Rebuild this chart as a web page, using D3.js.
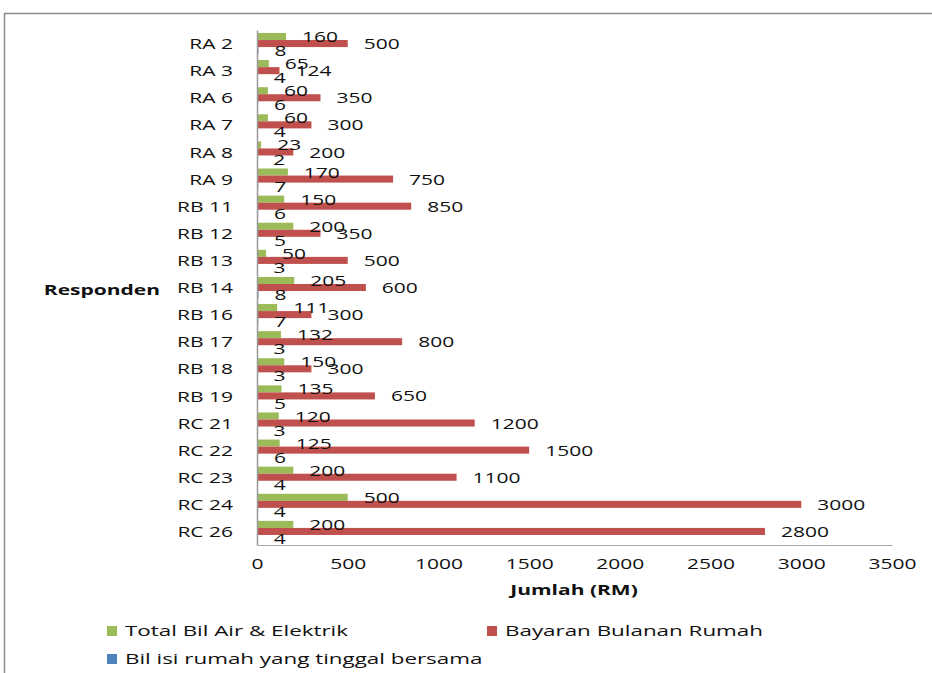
<!DOCTYPE html>
<html>
<head>
<meta charset="utf-8">
<script src="https://cdn.jsdelivr.net/npm/d3@7"></script>
<style>
  body { margin: 0; background: #fff; }
  text { font-family: "Open Sans", "Noto Sans", sans-serif; fill: #111; }
</style>
</head>
<body>
<div id="chart"></div>
<script>
// respondents, top to bottom
var categories = ['RA 2', 'RA 3', 'RA 6', 'RA 7', 'RA 8', 'RA 9', 'RB 11', 'RB 12', 'RB 13', 'RB 14',
  'RB 16', 'RB 17', 'RB 18', 'RB 19', 'RC 21', 'RC 22', 'RC 23', 'RC 24', 'RC 26']

// series values
var bilAirElektrik = [160, 65, 60, 60, 23, 170, 150, 200, 50, 205, 111, 132, 150, 135, 120, 125, 200, 500, 200]
var bayaranRumah = [500, 124, 350, 300, 200, 750, 850, 350, 500, 600, 300, 800, 300, 650, 1200, 1500, 1100, 3000, 2800]
var bilIsiRumah = [8, 4, 6, 4, 2, 7, 6, 5, 3, 8, 7, 3, 3, 5, 3, 6, 4, 4, 4]

var seriesNames = ['Total Bil Air & Elektrik', 'Bayaran Bulanan Rumah', 'Bil isi rumah yang tinggal bersama']
var seriesColors = ['#9bbb59', '#c0504d', '#4f81bd']
var xTicks = [0, 500, 1000, 1500, 2000, 2500, 3000, 3500]

const width = 932
const height = 673
const SX = 1.5   // the original text is drawn wide, stretch it horizontally
const FS = 14

var svg = d3.select('#chart')
  .append('svg')
  .attr('width', width)
  .attr('height', height)

// outer chart frame
svg.append('rect')
  .attr('x', 4.5).attr('y', 13.5)
  .attr('width', 1000).attr('height', 1000)
  .attr('fill', 'none')
  .attr('stroke', '#8c8c8c')
  .attr('stroke-width', 1.5)

var x = d3.scaleLinear().domain([0, 3500]).range([257, 892])
var y = d3.scaleBand().domain(categories).range([30, 545]).paddingInner(0.22).paddingOuter(0.11)
var ySub = d3.scaleBand().domain([0, 1, 2]).range([0, y.bandwidth()])

var series = [bilAirElektrik, bayaranRumah, bilIsiRumah]

// bars
series.forEach(function (values, s) {
  svg.append('g')
    .selectAll('rect')
    .data(values)
    .enter()
    .append('rect')
    .attr('x', x(0))
    .attr('y', (d, i) => y(categories[i]) + ySub(s))
    .attr('width', d => x(d) - x(0))
    .attr('height', ySub.bandwidth())
    .attr('fill', seriesColors[s])
})

// data labels
series.forEach(function (values, s) {
  svg.append('g')
    .selectAll('text')
    .data(values)
    .enter()
    .append('text')
    .attr('transform', (d, i) => 'translate(' + (x(d) + 16) + ',' + (y(categories[i]) + ySub(s) + ySub.bandwidth() / 2 + 0.5) + ') scale(' + SX + ',1)')
    .attr('dy', '0.36em')
    .style('font-size', FS + 'px')
    .text(d => d)
})

// y axis
var yAxis = svg.append('g')
  .attr('transform', 'translate(' + x(0) + ',0)')
  .call(d3.axisLeft(y).tickSize(0).tickSizeOuter(0))
yAxis.select('.domain').attr('stroke', '#999').attr('stroke-width', 1.5)
yAxis.selectAll('text')
  .attr('x', -24 / SX)
  .attr('dy', '0.4em')
  .attr('transform', 'scale(' + SX + ',1)')
  .style('font-size', FS + 'px')
  .style('font-family', '"Open Sans", sans-serif')
  .attr('fill', '#111')

// x axis
var xAxis = svg.append('g')
  .attr('transform', 'translate(0,545)')
  .call(d3.axisBottom(x).tickValues(xTicks).tickSize(0).tickSizeOuter(0).tickFormat(d3.format('d')))
xAxis.select('.domain').attr('stroke', '#aaa').attr('stroke-width', 1.2)
xAxis.selectAll('text')
  .attr('y', 14)
  .attr('transform', 'scale(' + SX + ',1)')
  .style('font-size', FS + 'px')
  .style('font-family', '"Open Sans", sans-serif')
  .attr('fill', '#111')

// axis titles
svg.append('text')
  .attr('transform', 'translate(574,595) scale(' + SX + ',1)')
  .attr('text-anchor', 'middle')
  .style('font-size', FS + 'px')
  .style('font-weight', 'bold')
  .text('Jumlah (RM)')

svg.append('text')
  .attr('transform', 'translate(160,295) scale(' + SX + ',1)')
  .attr('text-anchor', 'end')
  .style('font-size', FS + 'px')
  .style('font-weight', 'bold')
  .text('Responden')

// legend
var legendPos = [[107, 631], [487, 631], [107, 659]]
var legend = svg.append('g')
  .selectAll('g')
  .data(seriesNames)
  .enter()
  .append('g')
  .attr('transform', (d, i) => 'translate(' + legendPos[i][0] + ',' + legendPos[i][1] + ')')

legend.append('rect')
  .attr('x', 0).attr('y', -5)
  .attr('width', 10).attr('height', 10)
  .attr('fill', (d, i) => seriesColors[i])

legend.append('text')
  .attr('transform', 'translate(18,0) scale(1.6,1)')
  .attr('dy', '0.36em')
  .style('font-size', FS + 'px')
  .text(d => d)
</script>
</body>
</html>
